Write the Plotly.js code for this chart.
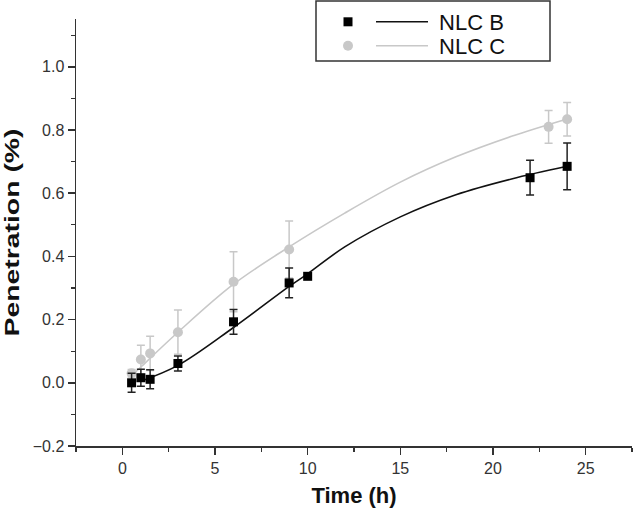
<!DOCTYPE html>
<html><head><meta charset="utf-8">
<script src="https://cdn.plot.ly/plotly-3.0.1.min.js"></script>
<style>html,body{margin:0;padding:0;background:#fff}#chart{width:633px;height:521px}</style>
</head><body><div id="chart"></div>
<script>
const timeB = [0.5, 1, 1.5, 3, 6, 9, 10, 22, 24];
const valB  = [0.0, 0.016, 0.011, 0.061, 0.193, 0.316, 0.337, 0.649, 0.685];
const errB  = [0.03, 0.027, 0.03, 0.024, 0.039, 0.047, 0, 0.055, 0.074];
const timeC = [0.5, 1, 1.5, 3, 6, 9, 23, 24];
const valC  = [0.03, 0.074, 0.093, 0.16, 0.32, 0.422, 0.81, 0.834];
const errC  = [0.012, 0.045, 0.054, 0.07, 0.095, 0.09, 0.052, 0.053];
// Fitted curves
const fitTimeB = [1, 3, 6, 9, 10, 12, 15, 18, 21, 24];
const fitValB  = [0.005, 0.055, 0.175, 0.305, 0.345, 0.43, 0.525, 0.595, 0.645, 0.685];
const fitTimeC = [0.5, 1, 3, 6, 9, 12, 15, 18, 21, 24];
const fitValC  = [0.022, 0.05, 0.16, 0.312, 0.43, 0.537, 0.635, 0.715, 0.78, 0.835];
// Ticks
const xTicks = [0, 5, 10, 15, 20, 25];
const yTicks = [-0.2, 0, 0.2, 0.4, 0.6, 0.8, 1.0];
const yTickText = ['\u22120.2', '0.0', '0.2', '0.4', '0.6', '0.8', '1.0'];
const seriesNames = ['NLC B', 'NLC C'];

const W = 633, H = 521;
const M = {l: 76, r: 1, t: 19, b: 75};
const pw = W - M.l - M.r, ph = H - M.t - M.b;
const px = x => (x - M.l) / pw;
const py = y => 1 - (y - M.t) / ph;

const black = '#111111', gray = '#c8c8c8';
const font = 'Liberation Sans, Arial, Helvetica, sans-serif';

const traces = [
  {x: fitTimeB, y: fitValB, type: 'scatter', mode: 'lines', name: '\u00a0' + seriesNames[0],
   line: {color: black, width: 1.6, shape: 'spline'}, legend: 'legend3', hoverinfo: 'skip'},
  {x: fitTimeC, y: fitValC, type: 'scatter', mode: 'lines', name: '\u00a0' + seriesNames[1],
   line: {color: gray, width: 1.6, shape: 'spline'}, legend: 'legend4', hoverinfo: 'skip'},
  {x: timeC, y: valC, type: 'scatter', mode: 'markers', name: ' ',
   marker: {symbol: 'circle', size: 10, color: gray},
   error_y: {type: 'data', array: errC, visible: true, color: gray, thickness: 1.5, width: 4},
   legend: 'legend2'},
  {x: timeB, y: valB, type: 'scatter', mode: 'markers', name: ' ',
   marker: {symbol: 'square', size: 9, color: '#000'},
   error_y: {type: 'data', array: errB, visible: true, color: '#222', thickness: 1.5, width: 4},
   legend: 'legend'}
];

const legBase = {bgcolor: 'rgba(0,0,0,0)', borderwidth: 0, xanchor: 'left', yanchor: 'middle',
  font: {family: font, size: 22, color: '#111'}};

const layout = {
  width: W, height: H,
  margin: M,
  paper_bgcolor: '#fff', plot_bgcolor: '#fff',
  font: {family: font, color: '#333'},
  showlegend: true,
  xaxis: {
    range: [-2.5, 27.5], tickvals: xTicks, ticktext: xTicks.map(String),
    ticks: 'outside', ticklen: 7, tickwidth: 1.5, tickcolor: '#333',
    minor: {ticks: 'outside', ticklen: 4, tickwidth: 1.3, dtick: 2.5, tick0: 0, tickcolor: '#333'},
    showline: true, linecolor: '#333', linewidth: 1.5, showgrid: false, zeroline: false,
    tickfont: {size: 16, color: '#333'},
    title: {text: 'Time (h)', font: {size: 22, color: '#111', weight: 'bold'}, standoff: 12}
  },
  yaxis: {
    range: [-0.2, -0.2 + ph / 316], tickvals: yTicks, ticktext: yTickText,
    ticks: 'outside', ticklen: 7, tickwidth: 1.5, tickcolor: '#333',
    minor: {ticks: 'outside', ticklen: 4, tickwidth: 1.3, dtick: 0.1, tick0: 0, tickcolor: '#333'},
    showline: true, linecolor: '#333', linewidth: 1.5, showgrid: false, zeroline: false,
    tickfont: {size: 16, color: '#333'},
    title: {text: 'Penetration (%)', font: {size: 21, color: '#111', weight: 'bold'}, standoff: 8}
  },
  legend:  Object.assign({}, legBase, {x: px(328), y: py(22)}),
  legend2: Object.assign({}, legBase, {x: px(328), y: py(46)}),
  legend3: Object.assign({}, legBase, {x: px(371), y: py(22), itemwidth: 52}),
  legend4: Object.assign({}, legBase, {x: px(371), y: py(46), itemwidth: 52}),
  shapes: [{type: 'rect', xref: 'paper', yref: 'paper',
    x0: px(316), x1: px(550), y0: py(61), y1: py(1),
    line: {color: '#333', width: 1.5}, fillcolor: 'rgba(0,0,0,0)'}]
};

Plotly.newPlot('chart', traces, layout, {displayModeBar: false, staticPlot: true}).then(() => {
  // the reference's y-axis title is drawn elongated along its length
  const t = document.querySelector('.ytitle');
  if (t) {
    t.setAttribute('textLength', '208');
    t.setAttribute('lengthAdjust', 'spacingAndGlyphs');
  }
});
</script>
</body></html>
